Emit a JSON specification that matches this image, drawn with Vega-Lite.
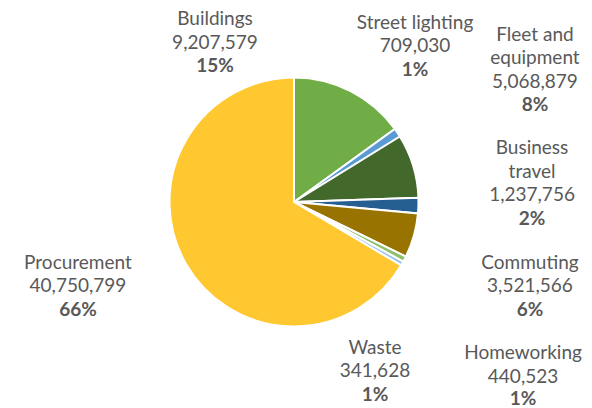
{
  "$schema": "https://vega.github.io/schema/vega-lite/v6.json",
  "width": 588,
  "height": 404,
  "autosize": {"type": "none"},
  "padding": {"left": 0, "top": 0, "right": 4, "bottom": 4},
  "background": "white",
  "config": {"view": {"stroke": null}, "text": {"font": "Lato", "fontSize": 19, "fill": "#595959"}},
  "data": {"values": [
    {"order": 1, "name": "Buildings", "label": "Buildings", "value": 9207579, "pct": "15%"},
    {"order": 2, "name": "Street lighting", "label": "Street lighting", "value": 709030, "pct": "1%"},
    {"order": 3, "name": "Fleet and equipment", "label": "Fleet and\nequipment", "value": 5068879, "pct": "8%"},
    {"order": 4, "name": "Business travel", "label": "Business\ntravel", "value": 1237756, "pct": "2%"},
    {"order": 5, "name": "Commuting", "label": "Commuting", "value": 3521566, "pct": "6%"},
    {"order": 6, "name": "Homeworking", "label": "Homeworking", "value": 440523, "pct": "1%"},
    {"order": 7, "name": "Waste", "label": "Waste", "value": 341628, "pct": "1%"},
    {"order": 8, "name": "Procurement", "label": "Procurement", "value": 40750799, "pct": "66%"}
  ]},
  "transform": [
    {"window": [{"op": "sum", "field": "value", "as": "cum"}], "sort": [{"field": "order", "order": "ascending"}], "frame": [null, 0]},
    {"joinaggregate": [{"op": "sum", "field": "value", "as": "total"}]},
    {"calculate": "datum.cum / datum.total", "as": "f1"},
    {"calculate": "(datum.cum - datum.value) / datum.total", "as": "f0"},
    {"calculate": "(datum.f0 + datum.f1) / 2", "as": "mid"},
    {"calculate": "datum.label + '\\n' + format(datum.value, ',')", "as": "txt"}
  ],
  "layer": [
    {
      "mark": {"type": "arc", "radius": 124.5, "stroke": "white", "strokeWidth": 2},
      "encoding": {
        "theta": {"field": "f0", "type": "quantitative", "stack": null, "scale": {"domain": [0, 1]}},
        "theta2": {"field": "f1"},
        "color": {
          "field": "name", "type": "nominal", "legend": null,
          "scale": {
            "domain": ["Buildings", "Street lighting", "Fleet and equipment", "Business travel", "Commuting", "Homeworking", "Waste", "Procurement"],
            "range": ["#70AD47", "#5B9BD5", "#43682B", "#255E91", "#997300", "#8CC168", "#9DC3E6", "#FFC830"]
          }
        }
      }
    },
    {
      "transform": [{"filter": "datum.name === 'Buildings'"}],
      "encoding": {"theta": {"field": "mid", "type": "quantitative"}},
      "layer": [
        {"mark": {"type": "text", "radius": 124.5, "dx": -135.6, "dy": -66.1, "align": "center", "baseline": "alphabetic", "lineBreak": "\n", "lineHeight": 23.5}, "encoding": {"text": {"field": "txt"}}},
        {"mark": {"type": "text", "radius": 124.5, "dx": -135.6, "dy": -19.1, "align": "center", "baseline": "alphabetic", "fontWeight": "bold"}, "encoding": {"text": {"field": "pct"}}}
      ]
    },
    {
      "transform": [{"filter": "datum.name === 'Street lighting'"}],
      "encoding": {"theta": {"field": "mid", "type": "quantitative"}},
      "layer": [
        {"mark": {"type": "text", "radius": 124.5, "dx": 17.6, "dy": -103.7, "align": "center", "baseline": "alphabetic", "lineBreak": "\n", "lineHeight": 23.5}, "encoding": {"text": {"field": "txt"}}},
        {"mark": {"type": "text", "radius": 124.5, "dx": 17.6, "dy": -56.7, "align": "center", "baseline": "alphabetic", "fontWeight": "bold"}, "encoding": {"text": {"field": "pct"}}}
      ]
    },
    {
      "transform": [{"filter": "datum.name === 'Fleet and equipment'"}],
      "encoding": {"theta": {"field": "mid", "type": "quantitative"}},
      "layer": [
        {"mark": {"type": "text", "radius": 124.5, "dx": 121.8, "dy": -125.4, "align": "center", "baseline": "alphabetic", "lineBreak": "\n", "lineHeight": 23.5}, "encoding": {"text": {"field": "txt"}}},
        {"mark": {"type": "text", "radius": 124.5, "dx": 121.8, "dy": -54.9, "align": "center", "baseline": "alphabetic", "fontWeight": "bold"}, "encoding": {"text": {"field": "pct"}}}
      ]
    },
    {
      "transform": [{"filter": "datum.name === 'Business travel'"}],
      "encoding": {"theta": {"field": "mid", "type": "quantitative"}},
      "layer": [
        {"mark": {"type": "text", "radius": 124.5, "dx": 113.6, "dy": -51.6, "align": "center", "baseline": "alphabetic", "lineBreak": "\n", "lineHeight": 23.5}, "encoding": {"text": {"field": "txt"}}},
        {"mark": {"type": "text", "radius": 124.5, "dx": 113.6, "dy": 18.9, "align": "center", "baseline": "alphabetic", "fontWeight": "bold"}, "encoding": {"text": {"field": "pct"}}}
      ]
    },
    {
      "transform": [{"filter": "datum.name === 'Commuting'"}],
      "encoding": {"theta": {"field": "mid", "type": "quantitative"}},
      "layer": [
        {"mark": {"type": "text", "radius": 124.5, "dx": 116.1, "dy": 33.4, "align": "center", "baseline": "alphabetic", "lineBreak": "\n", "lineHeight": 23.5}, "encoding": {"text": {"field": "txt"}}},
        {"mark": {"type": "text", "radius": 124.5, "dx": 116.1, "dy": 80.4, "align": "center", "baseline": "alphabetic", "fontWeight": "bold"}, "encoding": {"text": {"field": "pct"}}}
      ]
    },
    {
      "transform": [{"filter": "datum.name === 'Homeworking'"}],
      "encoding": {"theta": {"field": "mid", "type": "quantitative"}},
      "layer": [
        {"mark": {"type": "text", "radius": 124.5, "dx": 118.4, "dy": 100.4, "align": "center", "baseline": "alphabetic", "lineBreak": "\n", "lineHeight": 23.5}, "encoding": {"text": {"field": "txt"}}},
        {"mark": {"type": "text", "radius": 124.5, "dx": 118.4, "dy": 146.4, "align": "center", "baseline": "alphabetic", "fontWeight": "bold"}, "encoding": {"text": {"field": "pct"}}}
      ]
    },
    {
      "transform": [{"filter": "datum.name === 'Waste'"}],
      "encoding": {"theta": {"field": "mid", "type": "quantitative"}},
      "layer": [
        {"mark": {"type": "text", "radius": 124.5, "dx": -27.3, "dy": 90.5, "align": "center", "baseline": "alphabetic", "lineBreak": "\n", "lineHeight": 23.5}, "encoding": {"text": {"field": "txt"}}},
        {"mark": {"type": "text", "radius": 124.5, "dx": -27.3, "dy": 137.5, "align": "center", "baseline": "alphabetic", "fontWeight": "bold"}, "encoding": {"text": {"field": "pct"}}}
      ]
    },
    {
      "transform": [{"filter": "datum.name === 'Procurement'"}],
      "encoding": {"theta": {"field": "mid", "type": "quantitative"}},
      "layer": [
        {"mark": {"type": "text", "radius": 124.5, "dx": -107.9, "dy": 5.3, "align": "center", "baseline": "alphabetic", "lineBreak": "\n", "lineHeight": 23.5}, "encoding": {"text": {"field": "txt"}}},
        {"mark": {"type": "text", "radius": 124.5, "dx": -107.9, "dy": 52.3, "align": "center", "baseline": "alphabetic", "fontWeight": "bold"}, "encoding": {"text": {"field": "pct"}}}
      ]
    }
  ]
}
